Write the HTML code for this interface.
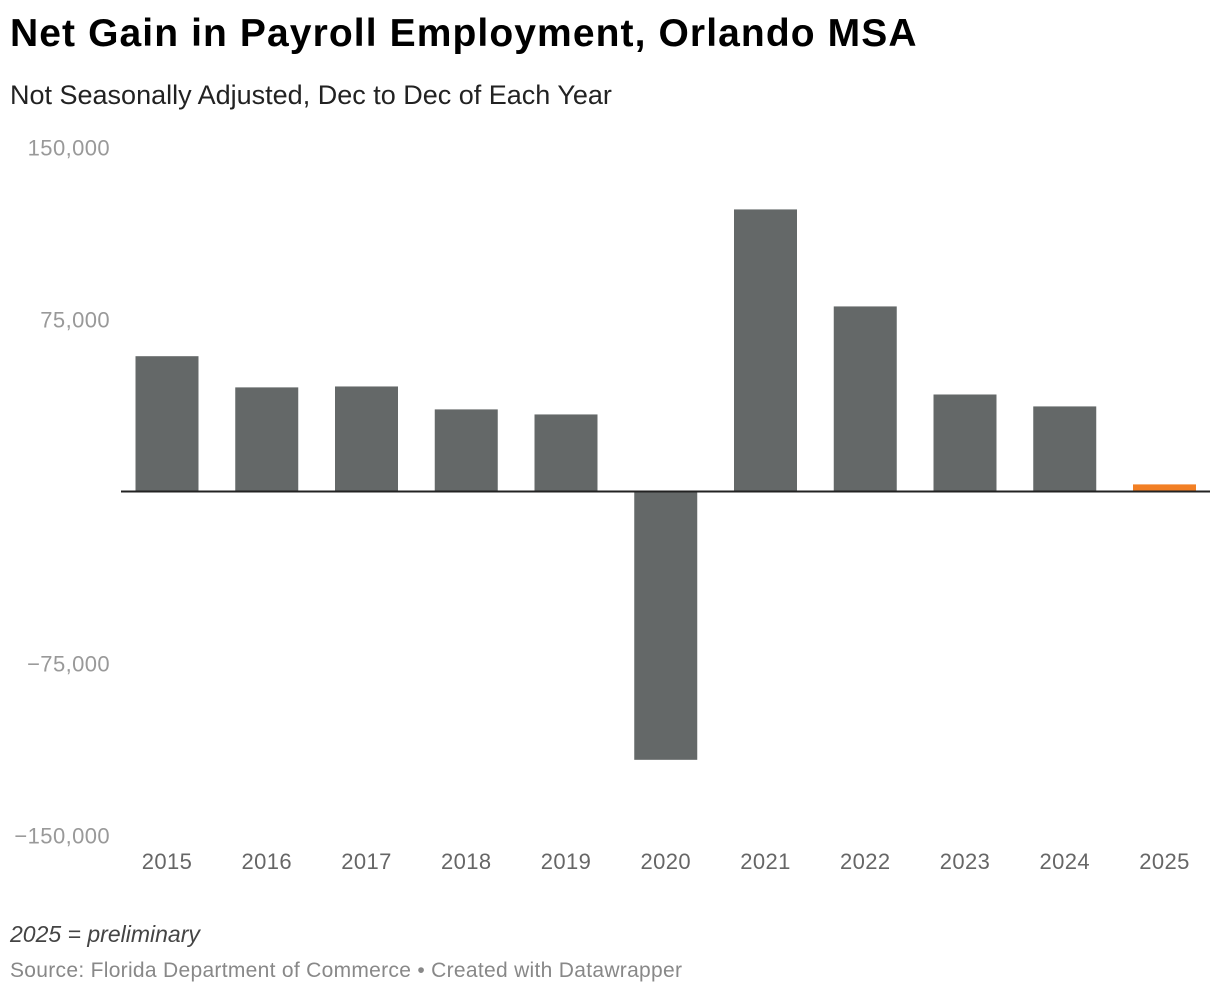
<!DOCTYPE html>
<html><head><meta charset="utf-8"><style>
body{margin:0;background:#fff;font-family:"Liberation Sans",sans-serif;}
#wrap{position:relative;width:1220px;height:996px;}
.t{position:absolute;left:10px;margin:0;white-space:nowrap;}
</style></head><body>
<div id="wrap">
<h1 class="t" style="top:12px;font-size:39px;letter-spacing:1.1px;font-weight:bold;color:#000;">Net Gain in Payroll Employment, Orlando MSA</h1>
<div class="t" style="top:80px;font-size:27px;color:#222;">Not Seasonally Adjusted, Dec to Dec of Each Year</div>
<svg id="svg" width="1220" height="996" style="position:absolute;left:0;top:0;"></svg>
<div class="t" style="top:921px;font-size:23px;font-style:italic;color:#444;">2025 = preliminary</div>
<div class="t" style="top:959px;font-size:21px;letter-spacing:0.3px;color:#888;">Source: Florida Department of Commerce • Created with Datawrapper</div>
</div>
<script>
const categories=["2015","2016","2017","2018","2019","2020","2021","2022","2023","2024","2025"];
const values=[59000,45400,45800,35800,33600,-117000,123000,80700,42300,37100,3100];
const yTicks=[150000,75000,-75000,-150000];
const yTickLabels=["150,000","75,000","−75,000","−150,000"];
const svg=document.getElementById('svg');
const NS='http://www.w3.org/2000/svg';
const y0=491.5,pxPer=172/75000;
const y=v=>y0-v*pxPer;
const left=135.5,band=99.75,bw=63;
const x=i=>left+i*band;
function mk(t,a){const e=document.createElementNS(NS,t);for(const k in a)e.setAttribute(k,a[k]);svg.appendChild(e);return e;}
yTicks.forEach((v,i)=>{const e=mk('text',{x:110,y:y(v)+8,'text-anchor':'end','font-size':22,'letter-spacing':0.4,fill:'#999','font-family':'Liberation Sans, sans-serif'});e.textContent=yTickLabels[i];

});
values.forEach((v,i)=>{const top=Math.min(y(v),y0),h=Math.abs(y(v)-y0);
const r=mk('rect',{x:x(i),y:top,width:bw,height:h,fill:i===values.length-1?'#f27f24':'#646868'});


const t=mk('text',{x:x(i)+bw/2,y:869,'text-anchor':'middle','font-size':22,'letter-spacing':0.4,fill:'#666','font-family':'Liberation Sans, sans-serif'});t.textContent=categories[i];

});
const l=mk('line',{x1:121,x2:1210,y1:y0,y2:y0,stroke:'#222','stroke-width':2});


</script>
</body></html>
